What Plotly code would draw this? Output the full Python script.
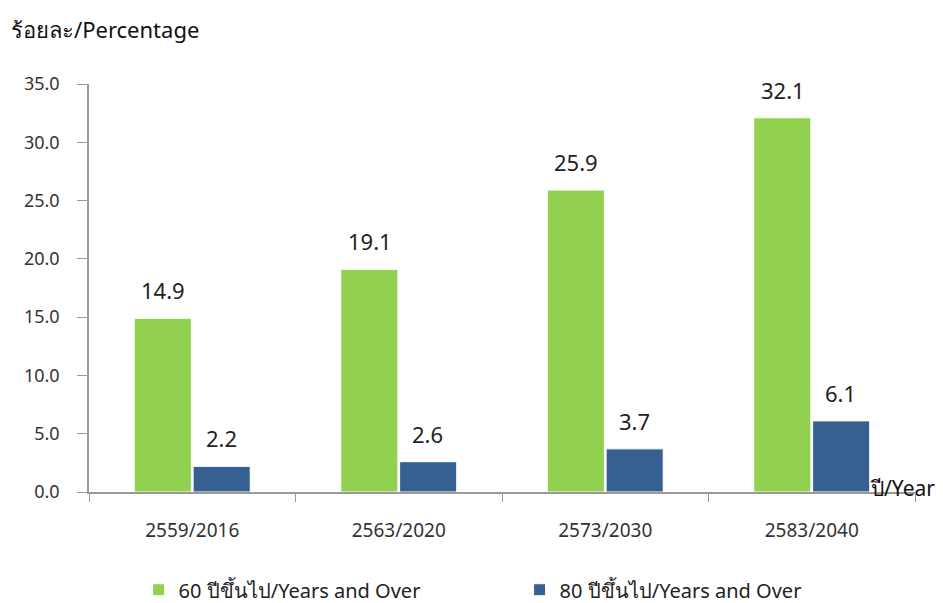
import plotly.graph_objects as go

years = ["2559/2016", "2563/2020", "2573/2030", "2583/2040"]
age60 = [14.9, 19.1, 25.9, 32.1]
age80 = [2.2, 2.6, 3.7, 6.1]
series_names = ["60 ปีขึ้นไป/Years and Over", "80 ปีขึ้นไป/Years and Over"]

FONT = "Tahoma, 'Noto Sans', 'DejaVu Sans', sans-serif"
GREEN = "#92D050"
BLUE = "#366092"
AXIS = "#9a9a9a"

fig = go.Figure()
fig.add_trace(go.Bar(x=years, y=age60, name=series_names[0],
                     marker=dict(color=GREEN, line=dict(color="white", width=1))))
fig.add_trace(go.Bar(x=years, y=age80, name=series_names[1],
                     marker=dict(color=BLUE, line=dict(color="white", width=1))))

# value labels above each bar
for vals, shift in ((age60, -29), (age80, 29)):
    for cat, v in zip(years, vals):
        fig.add_annotation(x=cat, y=v, text=f"{v:.1f}", showarrow=False,
                           xshift=shift, yshift=28,
                           font=dict(family=FONT, size=22, color="#222222"))

fig.add_annotation(text="ร้อยละ/Percentage", xref="paper", yref="paper",
                   x=-0.097, y=1.135, xanchor="left", yanchor="middle",
                   showarrow=False, font=dict(family=FONT, size=22, color="#111111"))
fig.add_annotation(text="ปี/Year", xref="paper", yref="paper",
                   x=0.943, y=0.01, xanchor="left", yanchor="middle",
                   showarrow=False, font=dict(family=FONT, size=21, color="#111111"))

fig.update_layout(
    width=943, height=603,
    margin=dict(l=89, r=28, t=84, b=111),
    paper_bgcolor="white", plot_bgcolor="white",
    barmode="group", bargap=0.43, bargroupgap=0.03,
    font=dict(family=FONT, size=16, color="#333333"),
    showlegend=True,
    legend=dict(orientation="h", x=0.147, y=0.022, xref="container", yref="container",
                xanchor="left", yanchor="middle",
                font=dict(family=FONT, size=20, color="#222222"),
                itemwidth=30, entrywidth=336, entrywidthmode="pixels"),
    xaxis=dict(showline=True, linecolor=AXIS, linewidth=1.5, ticks="outside",
               tickson="boundaries", ticklen=8, tickcolor=AXIS, automargin=False,
               ticklabelstandoff=20, tickfont=dict(size=19, color="#333333"),
               showgrid=False),
    yaxis=dict(range=[0, 35], dtick=5, tickformat=".1f", showline=True,
               linecolor=AXIS, linewidth=1.5, ticks="outside", ticklen=10,
               tickcolor=AXIS, ticklabelstandoff=14, showgrid=False, zeroline=False,
               automargin=False, tickfont=dict(size=18, color="#333333")),
)

# drop the page's default body margin so the figure sits at the window's corner
fig.write_html("out.html", config={"displayModeBar": False},
               post_script="document.body.style.margin='0';")
